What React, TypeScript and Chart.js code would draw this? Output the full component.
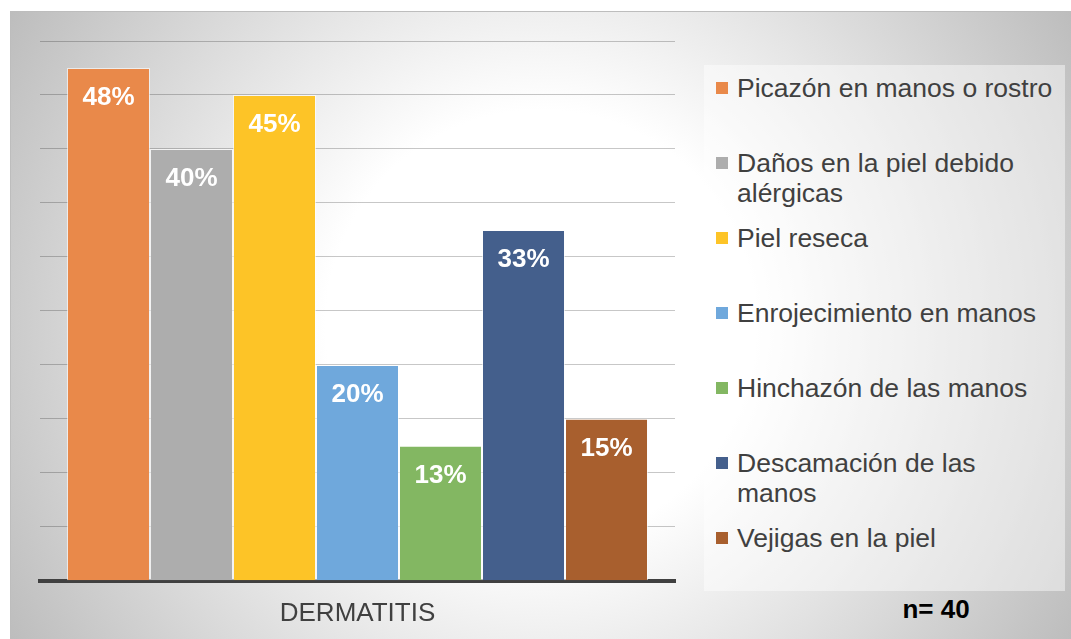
import React, { useEffect, useRef } from "react";
import { Chart, registerables } from "chart.js";

Chart.register(...registerables);

const categories = ["DERMATITIS"];
const seriesNames = [
  "Picazón en manos o rostro",
  "Daños en la piel debido alérgicas",
  "Piel reseca",
  "Enrojecimiento en manos",
  "Hinchazón de las manos",
  "Descamación de las manos",
  "Vejigas en la piel",
];
const seriesValues = [47.5, 40, 45, 20, 12.5, 32.5, 15];
const seriesColors = ["#E9894A", "#ADADAD", "#FDC427", "#6FA8DC", "#83B762", "#445F8C", "#A85F2E"];
const yMin = 0;
const yMax = 50;
const yStep = 5;
const sampleNote = "n= 40";

const FONT = "'Liberation Sans', Arial, Helvetica, sans-serif";

export default function App() {
  const ref = useRef<HTMLCanvasElement>(null);

  useEffect(() => {
    if (!ref.current) return;
    const labelPlugin = {
      id: "barLabels",
      afterDraw(chart: any) {
        const ctx = chart.ctx;
        ctx.save();
        ctx.font = `bold 26px ${FONT}`;
        ctx.fillStyle = "#ffffff";
        ctx.textAlign = "center";
        ctx.textBaseline = "middle";
        chart.data.datasets.forEach((ds: any, i: number) => {
          const meta = chart.getDatasetMeta(i);
          meta.data.forEach((bar: any, j: number) => {
            const v = ds.data[j] as number;
            ctx.fillText(Math.round(v) + "%", bar.x, bar.y + 30);
          });
        });
        ctx.restore();
      },
    };

    const chart = new Chart(ref.current, {
      type: "bar",
      data: {
        labels: categories,
        datasets: seriesNames.map((name, i) => ({
          label: name,
          data: [seriesValues[i]],
          backgroundColor: seriesColors[i],
          borderColor: "rgba(255,255,255,0.6)",
          borderWidth: 1,
          categoryPercentage: 0.915,
          barPercentage: 1,
        })),
      },
      options: {
        animation: false,
        responsive: false,
        maintainAspectRatio: false,
        layout: { padding: { left: 40, top: 41, right: 396, bottom: 0 } },
        plugins: { legend: { display: false }, tooltip: { enabled: false } },
        scales: {
          x: {
            z: 1,
            grid: { display: false, drawTicks: false },
            border: { display: true, color: "#404040", width: 4 },
            ticks: { color: "#404040", font: { size: 26, family: FONT }, padding: 17 },
          },
          y: {
            z: 1,
            min: yMin,
            max: yMax,
            ticks: { display: false, stepSize: yStep },
            grid: { color: "rgba(0,0,0,0.22)", drawTicks: false, lineWidth: 1 },
            border: { display: false },
          },
        },
      },
      plugins: [labelPlugin],
    } as any);
    return () => chart.destroy();
  }, []);

  return (
    <div style={{ position: "fixed", left: 0, top: 0, width: 1071, height: 639, background: "#ffffff", overflow: "hidden", fontFamily: FONT }}>
      <div
        style={{
          position: "absolute",
          left: 10,
          top: 11,
          right: 0,
          bottom: 0,
          borderLeft: "1px solid #bdbdbd",
          borderTop: "1px solid #bdbdbd",
          background: "radial-gradient(circle farthest-corner at 50% 50%, #ffffff 35%, #bdbdbd 100%)",
        }}
      />
      <div
        style={{
          position: "absolute",
          left: 704,
          top: 65,
          width: 361,
          height: 526,
          background: "rgba(255,255,255,0.45)",
        }}
      >
        {seriesNames.map((name, i) => (
          <div key={name} style={{ position: "absolute", left: 0, top: 8 + 75 * i, width: 361 }}>
            <div
              style={{
                position: "absolute",
                left: 12,
                top: 9,
                width: 12,
                height: 12,
                background: seriesColors[i],
              }}
            />
            <div
              style={{
                position: "absolute",
                left: 33,
                top: 0,
                width: 318,
                fontSize: 26.5,
                lineHeight: "30px",
                color: "#404040",
                whiteSpace: "normal",
              }}
            >
              {name}
            </div>
          </div>
        ))}
      </div>
      <div
        style={{
          position: "absolute",
          left: 836,
          top: 594,
          width: 200,
          textAlign: "center",
          fontSize: 26,
          lineHeight: "30px",
          fontWeight: "bold",
          color: "#000000",
        }}
      >
        {sampleNote}
      </div>
      <canvas ref={ref} width={1071} height={646} style={{ position: "absolute", left: 0, top: 0, width: 1071, height: 646 }} />
    </div>
  );
}
